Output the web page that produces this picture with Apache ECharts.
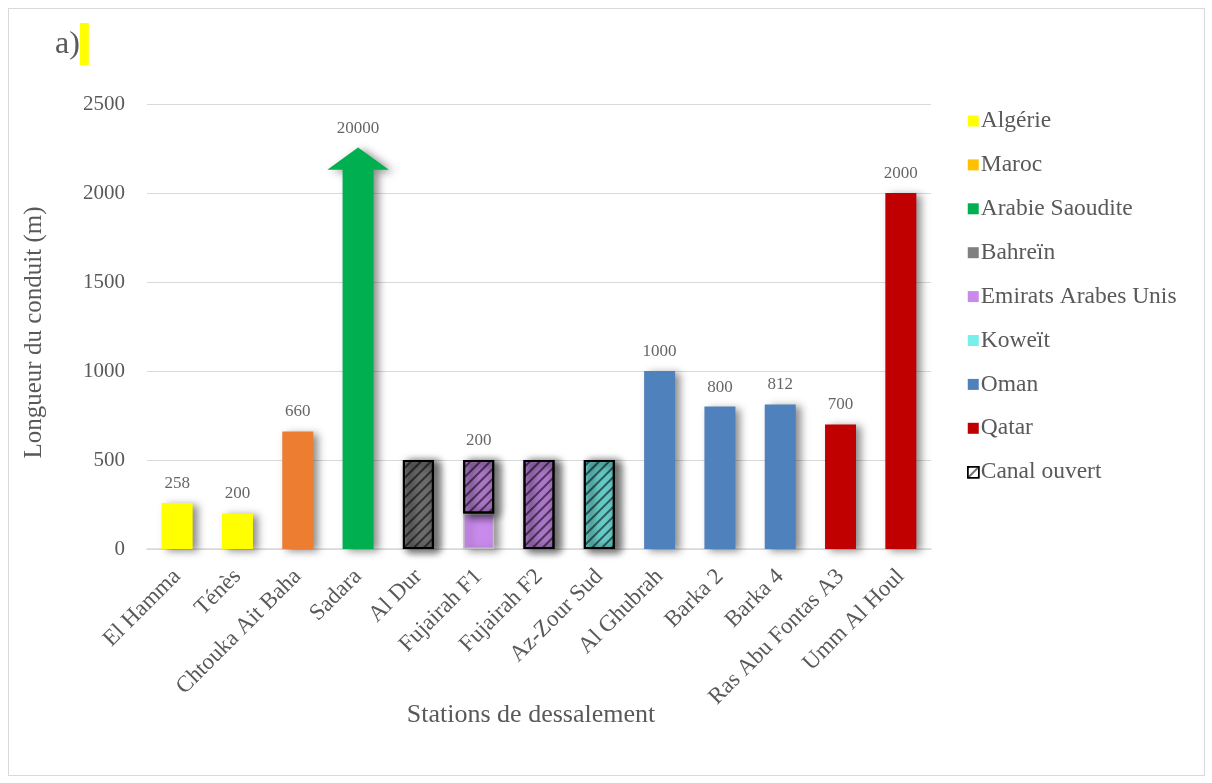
<!DOCTYPE html>
<html><head><meta charset="utf-8">
<script src="https://cdn.jsdelivr.net/npm/echarts@6/dist/echarts.min.js"></script>
<style>
html,body{margin:0;padding:0;background:#fff;}
#frame{position:absolute;left:8px;top:8px;width:1195px;height:766px;border:1px solid #d9d9d9;}
#chart{position:absolute;left:0;top:0;width:1212px;height:783px;}
</style></head>
<body>
<div id="frame"></div>
<div id="chart"></div>
<script>
// ---- data ----
const categories = ['El Hamma','Ténès','Chtouka Ait Baha','Sadara','Al Dur','Fujairah F1','Fujairah F2','Az-Zour Sud','Al Ghubrah','Barka 2','Barka 4','Ras Abu Fontas A3','Umm Al Houl'];
const countryOf = ['Algérie','Algérie','Maroc','Arabie Saoudite','Bahreïn','Emirats Arabes Unis','Emirats Arabes Unis','Koweït','Oman','Oman','Oman','Qatar','Qatar'];
const solidValues = [258,200,660,2130,0,200,0,0,1000,800,812,700,2000];
const canalValues = [0,0,0,0,500,300,500,500,0,0,0,0,0];
const arrowTip = 2255; // drawn tip of the Sadara arrow (value off the scale)
const labelTexts = ['258','200','660','20000','','200','','','1000','800','812','700','2000'];
const countries = ['Algérie','Maroc','Arabie Saoudite','Bahreïn','Emirats Arabes Unis','Koweït','Oman','Qatar'];
const barColors = {'Algérie':'#FFFF00','Maroc':'#ED7D31','Arabie Saoudite':'#00B050','Bahreïn':'#7F7F7F','Emirats Arabes Unis':'#C98BEB','Koweït':'#77F0EB','Oman':'#4F81BD','Qatar':'#C00000'};
const legendColors = {'Algérie':'#FFFF00','Maroc':'#FFC000','Arabie Saoudite':'#00B050','Bahreïn':'#808080','Emirats Arabes Unis':'#C98BEB','Koweït':'#77F0EB','Oman':'#4F81BD','Qatar':'#C00000'};
const yTicks = {min:0,max:2500,interval:500};

// ---- chart ----
const FONT = 'Liberation Serif';
const TXT = '#595959';
const shadow = {shadowBlur:8, shadowOffsetX:5, shadowOffsetY:2, shadowColor:'rgba(0,0,0,0.45)'};
const noShadow = {shadowBlur:0, shadowOffsetX:0, shadowOffsetY:0, shadowColor:'transparent'};
const hatch = {symbol:'rect', symbolSize:1, dashArrayX:[1,0], dashArrayY:[1.1,4.4], rotation:-Math.PI/4, color:'rgba(0,0,0,0.55)'};

const series = [];
countries.forEach(c => {
  if (c === 'Arabie Saoudite') {
    series.push({
      name:c, type:'custom', z:3,
      itemStyle:{color:barColors[c]},
      data: categories.map((cat,i)=> countryOf[i]===c ? [i, solidValues[i], arrowTip] : null).filter(d=>d),
      renderItem:(params, api)=>{
        const x = api.value(0), base = api.value(1), tip = api.value(2);
        const p0 = api.coord([x,0]), pb = api.coord([x,base]), pt = api.coord([x,tip]);
        const cw = api.size([1,0])[0];
        const bw = 31/2, hw = cw*0.51;
        return {type:'polygon', shape:{points:[
          [p0[0]-bw,p0[1]],[p0[0]-bw,pb[1]],[p0[0]-hw,pb[1]],[pt[0],pt[1]],
          [p0[0]+hw,pb[1]],[p0[0]+bw,pb[1]],[p0[0]+bw,p0[1]]]},
          style:Object.assign({fill:barColors[c]}, shadow)};
      }
    });
  } else {
    series.push({
      name:c, type:'bar', stack:'s', barWidth:31,
      itemStyle:Object.assign({color:barColors[c]}, shadow, c==='Emirats Arabes Unis' ? {borderColor:'#BFBFBF', borderWidth:1.5} : {}),
      data: categories.map((cat,i)=> (countryOf[i]===c && solidValues[i]>0) ? solidValues[i] : '-')
    });
  }
});
series.push({
  name:'Canal ouvert', type:'bar', stack:'s', barWidth:31,
  itemStyle:{color:'#fff', borderColor:'#000', borderWidth:2, decal:hatch},
  data: categories.map((cat,i)=> canalValues[i]>0 ? {value:canalValues[i], itemStyle:Object.assign({color:barColors[countryOf[i]], borderColor:'#000', borderWidth:2, decal:hatch}, shadow)} : '-')
});
series.push({
  name:'labels', type:'scatter', symbolSize:0, silent:true, z:10,
  data: categories.map((cat,i)=> labelTexts[i] ? [i, countryOf[i]==='Arabie Saoudite' ? arrowTip : solidValues[i]+canalValues[i], labelTexts[i]] : null).filter(d=>d),
  label:{show:true, position:'top', distance:11, formatter:p=>p.value[2], fontFamily:FONT, fontSize:17, color:'#404040'}
});

const legendData = countries.map(c=>({name:c, icon:'rect', itemStyle:Object.assign({color:legendColors[c], borderWidth:0, decal:'none'}, noShadow)}));
legendData.push({name:'Canal ouvert', icon:'rect', itemStyle:Object.assign({color:'#fff', borderColor:'#000', borderWidth:1.5, decal:hatch}, noShadow)});

const chart = echarts.init(document.getElementById('chart'));
chart.setOption({
  backgroundColor:'transparent',
  animation:false,
  textStyle:{fontFamily:FONT},
  title:{text:'{a|a)}{h|}', left:50, top:18, textStyle:{rich:{
    a:{fontFamily:FONT, fontSize:32, fontWeight:'normal', color:TXT, verticalAlign:'bottom', padding:[0,0,4,0]},
    h:{backgroundColor:'#FFFF00', width:9, height:42}
  }}},
  grid:{left:147, right:281, top:104, bottom:234},
  legend:{orient:'vertical', left:962, top:104, itemWidth:11, itemHeight:11, itemGap:19.9,
    textStyle:{fontFamily:FONT, fontSize:23.5, color:TXT, padding:[0,0,0,-3]}, data:legendData},
  xAxis:{type:'category', data:categories, name:'Stations de dessalement', nameLocation:'middle', nameGap:153,
    nameMoveOverlap:false,
    nameTextStyle:{fontFamily:FONT, fontSize:26, color:TXT, padding:[0,16,0,0]},
    axisLine:{lineStyle:{color:'#D9D9D9', width:1.5}}, axisTick:{show:false},
    axisLabel:{rotate:45, interval:0, margin:24, fontFamily:FONT, fontSize:23, color:TXT}},
  yAxis:{type:'value', min:yTicks.min, max:yTicks.max, interval:yTicks.interval,
    name:'Longueur du conduit (m)', nameLocation:'middle', nameGap:100, nameMoveOverlap:false,
    nameTextStyle:{fontFamily:FONT, fontSize:25, color:TXT, padding:[0,0,0,-12]},
    axisLine:{show:false}, axisTick:{show:false},
    splitLine:{lineStyle:{color:'#D9D9D9', width:1.2}},
    axisLabel:{margin:22, fontFamily:FONT, fontSize:21, color:TXT, formatter:v=>String(v)}},
  series
});
</script>
</body></html>
